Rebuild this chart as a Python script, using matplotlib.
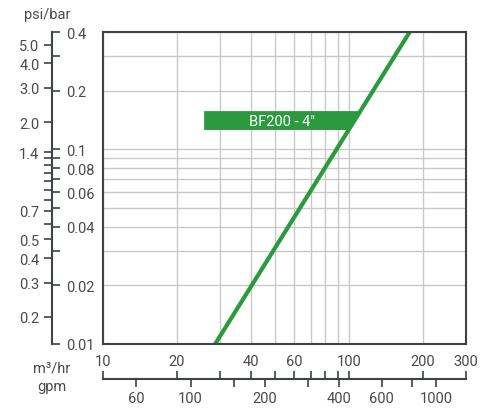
import numpy as np
import matplotlib
matplotlib.use('Agg')
import matplotlib.pyplot as plt
from matplotlib.ticker import NullLocator
from matplotlib.patches import Polygon

# pressure drop curve of the filter (m3/hr vs bar)
flow_m3h = [28.6, 177.0]
drop_bar = [0.01, 0.4]
series_label = 'BF200 - 4\u2033'

# main scale ticks
m3h_ticks = [10, 20, 30, 40, 50, 60, 70, 80, 90, 100, 200, 300]
m3h_labels = [10, 20, 40, 60, 100, 200, 300]
bar_ticks = [0.01, 0.02, 0.03, 0.04, 0.05, 0.06, 0.07, 0.08, 0.09, 0.1, 0.2, 0.3, 0.4]
bar_labels = [0.01, 0.02, 0.04, 0.06, 0.08, 0.1, 0.2, 0.4]

# secondary scales
gpm_ticks = [60, 100, 150, 200, 300, 400, 600, 800, 1000]
gpm_labels = [60, 100, 200, 400, 600, 1000]
psi_ticks = [5.0, 4.0, 3.0, 2.0, 1.4, 1.3, 1.2, 1.1, 1.0, 0.9, 0.8, 0.7, 0.6, 0.5, 0.4, 0.3, 0.2]
psi_labels = [5.0, 4.0, 3.0, 2.0, 1.4, 0.7, 0.5, 0.4, 0.3, 0.2]

GPM_PER_M3H = 4.403
PSI_PER_BAR = 14.5

GREEN = '#2b9a3e'
DARK = '#3d4349'
TXT = '#4a4a4a'
GRID = '#c9c9c9'

plt.rcParams['font.family'] = ['Roboto', 'DejaVu Sans']
plt.rcParams['font.size'] = 10

W, H = 495, 410
fig = plt.figure(figsize=(W / 100, H / 100), dpi=100)


def fx(px):
    return px / W


def fy(px):
    return 1 - px / H


def fmt(v):
    return ('%g' % v)


# main plot
ax = fig.add_axes([fx(103), fy(345), fx(466) - fx(103), fy(33) - fy(345)])
ax.set_xscale('log')
ax.set_yscale('log')
ax.set_xlim(10, 300)
ax.set_ylim(0.01, 0.4)
ax.set_xticks(m3h_ticks)
ax.set_xticklabels([fmt(t) if t in m3h_labels else '' for t in m3h_ticks])
ax.set_yticks(bar_ticks)
ax.set_yticklabels([])
ax.xaxis.set_minor_locator(NullLocator())
ax.yaxis.set_minor_locator(NullLocator())
ax.tick_params(axis='x', length=0, pad=7, labelsize=10.5, colors=TXT)
ax.tick_params(axis='y', length=0)
ax.grid(True, color=GRID, linewidth=1.0)
for s in ax.spines.values():
    s.set_color(DARK)
    s.set_linewidth(1.5)
    s.set_zorder(5)

ax.plot(flow_m3h, drop_bar, color=GREEN, linewidth=3.0, solid_capstyle='butt', zorder=4)

# series label box, right edge follows the curve
box_lo, box_hi, box_left = 0.1256, 0.157, 25.8
lx = np.log10(flow_m3h)
ly = np.log10(drop_bar)
r_lo = 10 ** np.interp(np.log10(box_lo), ly, lx)
r_hi = 10 ** np.interp(np.log10(box_hi), ly, lx)
ax.add_patch(Polygon([(box_left, box_lo), (r_lo, box_lo), (r_hi, box_hi), (box_left, box_hi)],
                     closed=True, facecolor=GREEN, edgecolor='none', zorder=3))
ax.text(10 ** ((np.log10(box_left) + np.log10(r_hi)) / 2), np.sqrt(box_lo * box_hi), series_label,
        color='white', ha='center', va='center', fontsize=10.5, zorder=6)

# left scale: psi (left side) / bar (right side)
ax_l = fig.add_axes([fx(52), fy(345), 0.0001, fy(33) - fy(345)])
ax_l.set_yscale('log')
ax_l.set_ylim(0.01, 0.4)
ax_l.set_yticks([p / PSI_PER_BAR for p in psi_ticks])
ax_l.set_yticklabels(['%.1f' % p if p in psi_labels else '' for p in psi_ticks])
ax_l.yaxis.set_minor_locator(NullLocator())
ax_l.tick_params(axis='y', direction='out', length=6, width=1.2, pad=3, colors=DARK,
                 labelcolor=TXT, labelsize=10.5)
ax_l.xaxis.set_visible(False)
ax_l.patch.set_visible(False)
for k in ['top', 'bottom', 'right']:
    ax_l.spines[k].set_visible(False)
ax_l.spines['left'].set_color(DARK)
ax_l.spines['left'].set_linewidth(1.5)

ax_r = ax_l.twinx()
ax_r.set_yscale('log')
ax_r.set_ylim(0.01, 0.4)
ax_r.set_yticks(bar_ticks)
ax_r.set_yticklabels([fmt(t) if t in bar_labels else '' for t in bar_ticks])
ax_r.yaxis.set_minor_locator(NullLocator())
ax_r.tick_params(axis='y', direction='out', length=6, width=1.2, pad=4, colors=DARK,
                 labelcolor=TXT, labelsize=10.5)
ax_r.patch.set_visible(False)
for s in ax_r.spines.values():
    s.set_visible(False)

# bottom scale: m3/hr ticks up, gpm ticks down
ax_b = fig.add_axes([fx(103), fy(380), fx(466) - fx(103), 0.0001])
ax_b.set_xscale('log')
ax_b.set_xlim(10, 300)
ax_b.set_xticks([g / GPM_PER_M3H for g in gpm_ticks])
ax_b.set_xticklabels([fmt(g) if g in gpm_labels else '' for g in gpm_ticks])
ax_b.xaxis.set_minor_locator(NullLocator())
ax_b.tick_params(axis='x', direction='out', length=6, width=1.2, pad=3, colors=DARK,
                 labelcolor=TXT, labelsize=10.5)
ax_b.yaxis.set_visible(False)
ax_b.patch.set_visible(False)
for k in ['top', 'left', 'right']:
    ax_b.spines[k].set_visible(False)
ax_b.spines['bottom'].set_color(DARK)
ax_b.spines['bottom'].set_linewidth(1.5)

ax_t = ax_b.twiny()
ax_t.set_xscale('log')
ax_t.set_xlim(10, 300)
ax_t.set_xticks(m3h_ticks)
ax_t.set_xticklabels([])
ax_t.xaxis.set_minor_locator(NullLocator())
ax_t.tick_params(axis='x', direction='out', length=6, width=1.2, colors=DARK)
ax_t.patch.set_visible(False)
for s in ax_t.spines.values():
    s.set_visible(False)

# unit captions
fig.text(fx(47), fy(19), 'psi/bar', ha='center', va='baseline', color=TXT, fontsize=10.5)
fig.text(fx(52), fy(373), 'm\u00b3/hr', ha='center', va='baseline', color=TXT, fontsize=10.5)
fig.text(fx(52), fy(391), 'gpm', ha='center', va='baseline', color=TXT, fontsize=10.5)

fig.savefig('out.png', dpi=100)
